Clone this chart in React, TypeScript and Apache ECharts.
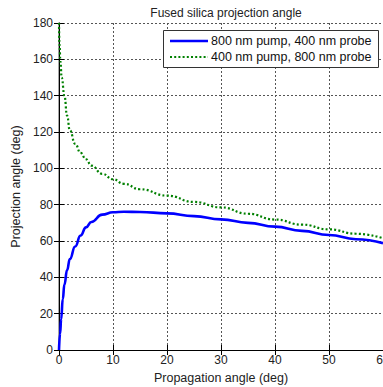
import React, { useEffect, useRef } from "react";
import * as echarts from "echarts";

const title = "Fused silica projection angle";
const xName = "Propagation angle (deg)";
const yName = "Projection angle (deg)";
const seriesNames = ["800 nm pump, 400 nm probe", "400 nm pump, 800 nm probe"];
const seriesColors = ["#0000ff", "#008000"];

const blueX = [0, 0.2, 0.4, 0.7, 1, 1.5, 2, 3, 4, 5, 6, 8, 10, 12, 15, 20, 25, 30, 35, 40, 45, 50, 55, 60];
const blueY = [0, 9, 17, 28, 36, 44, 50, 57, 63, 67.5, 70.5, 74.5, 75.8, 76.1, 76, 75.2, 73.7, 71.9, 70, 67.9, 65.6, 63.3, 61, 58.8];

const greenX = [0, 0.1, 0.25, 0.5, 1, 1.5, 2, 3, 4, 5, 6, 8, 10, 12, 15, 20, 25, 30, 35, 40, 45, 50, 55, 60];
const greenY = [180, 168, 159, 150, 140, 129, 121, 113.5, 108.5, 105, 101.5, 97, 94, 91.5, 88.5, 85, 81.5, 78.5, 75, 71.8, 69, 66.4, 64, 61.5];

const FONT = "'Liberation Sans', Arial, sans-serif";
const DOT: number[] = [2, 2.2];

export default function App() {
  const ref = useRef<HTMLDivElement>(null);
  useEffect(() => {
    document.body.style.margin = "0";
    const chart = echarts.init(ref.current!, null, { renderer: "svg" });
    const gridLine = { show: true, lineStyle: { color: "#555", width: 1, type: [2, 2] } };
    const tickIn = { show: true, inside: true, length: 5, lineStyle: { color: "#000" } };
    const Z = 100;
    chart.setOption({
      animation: false,
      backgroundColor: "#fff",
      textStyle: { fontFamily: FONT },
      title: {
        text: title,
        left: 221,
        textAlign: "center",
        top: 2,
        textStyle: { fontSize: 12, fontWeight: "normal", color: "#222", fontFamily: FONT },
      },
      grid: { left: 59, top: 23, width: 324, height: 327, outerBoundsMode: "none", containLabel: false },
      graphic: [
        {
          type: "rect",
          z: Z,
          shape: { x: 163.5, y: 30.5, width: 215, height: 37 },
          style: { fill: "#ffffff", stroke: "#333", lineWidth: 1 },
        },
        {
          type: "line",
          z: Z + 1,
          shape: { x1: 170, y1: 41, x2: 208, y2: 41 },
          style: { stroke: seriesColors[0], lineWidth: 2.5 },
        },
        {
          type: "line",
          z: Z + 1,
          shape: { x1: 170, y1: 57, x2: 208, y2: 57 },
          style: { stroke: seriesColors[1], lineWidth: 2.2, lineDash: DOT },
        },
        {
          type: "text",
          z: Z + 1,
          x: 211,
          y: 41,
          style: { text: seriesNames[0], fontSize: 12.5, fill: "#111", fontFamily: FONT, verticalAlign: "middle", align: "left" },
        },
        {
          type: "text",
          z: Z + 1,
          x: 211,
          y: 57,
          style: { text: seriesNames[1], fontSize: 12.5, fill: "#111", fontFamily: FONT, verticalAlign: "middle", align: "left" },
        },
      ],
      xAxis: [
        {
          type: "value",
          min: 0,
          max: 60,
          interval: 10,
          position: "bottom",
          name: xName,
          nameLocation: "middle",
          nameGap: 21,
          nameTextStyle: { fontSize: 12.5, color: "#222", fontFamily: FONT },
          axisLine: { show: true, lineStyle: { color: "#000", width: 1 } },
          axisTick: tickIn,
          axisLabel: { fontSize: 12, color: "#222", margin: 4, fontFamily: FONT, hideOverlap: false },
          splitLine: gridLine,
        },
        {
          type: "value",
          min: 0,
          max: 60,
          interval: 10,
          position: "top",
          axisLine: { show: true, lineStyle: { color: "#000", width: 1 } },
          axisTick: tickIn,
          axisLabel: { show: false },
          splitLine: { show: false },
        },
      ],
      yAxis: [
        {
          type: "value",
          min: 0,
          max: 180,
          interval: 20,
          position: "left",
          name: yName,
          nameLocation: "middle",
          nameGap: 29,
          nameTextStyle: { fontSize: 12.5, color: "#222", fontFamily: FONT },
          axisLine: { show: true, lineStyle: { color: "#888", width: 1.5 } },
          axisTick: tickIn,
          axisLabel: { fontSize: 12, color: "#222", margin: 6, fontFamily: FONT },
          splitLine: gridLine,
        },
        {
          type: "value",
          min: 0,
          max: 180,
          interval: 20,
          position: "right",
          axisLine: { show: true, lineStyle: { color: "#000", width: 1 } },
          axisTick: tickIn,
          axisLabel: { show: false },
          splitLine: { show: false },
        },
      ],
      series: [
        {
          name: seriesNames[0],
          type: "line",
          xAxisIndex: 0,
          yAxisIndex: 0,
          data: blueX.map((x, i) => [x, blueY[i]]),
          showSymbol: false,
          symbol: "none",
          smooth: true,
          smoothMonotone: "x",
          lineStyle: { color: seriesColors[0], width: 2.6 },
          itemStyle: { color: seriesColors[0] },
        },
        {
          name: seriesNames[1],
          type: "line",
          xAxisIndex: 0,
          yAxisIndex: 0,
          data: greenX.map((x, i) => [x, greenY[i]]),
          showSymbol: false,
          symbol: "none",
          smooth: true,
          smoothMonotone: "x",
          lineStyle: { color: seriesColors[1], width: 2.2, type: DOT },
          itemStyle: { color: seriesColors[1] },
        },
      ],
    });
    return () => chart.dispose();
  }, []);
  return <div ref={ref} style={{ position: "fixed", left: 0, top: 0, width: 383, height: 387 }} />;
}
